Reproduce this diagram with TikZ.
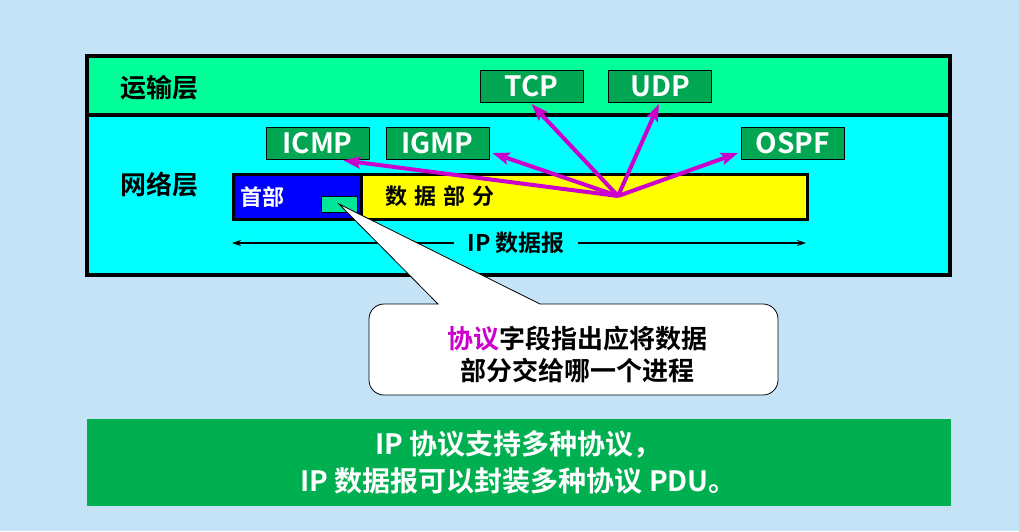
\documentclass[tikz,border=0pt]{standalone}
\usepackage{fontspec}
\setmainfont{Noto Sans CJK SC}[BoldFont={Noto Sans CJK SC Bold}]
\usetikzlibrary{arrows.meta,calc}

\definecolor{bgblue}{RGB}{197,227,247}
\definecolor{transgreen}{RGB}{0,255,153}
\definecolor{netcyan}{RGB}{0,255,255}
\definecolor{protogreen}{RGB}{0,166,81}
\definecolor{fieldgreen}{RGB}{0,230,150}
\definecolor{hdrblue}{RGB}{0,0,255}
\definecolor{datayellow}{RGB}{255,255,0}
\definecolor{arrowmag}{RGB}{204,0,204}
\definecolor{notegreen}{RGB}{0,176,80}

\tikzset{
  layerlabel/.style={font=\fontsize{26}{30}\selectfont\bfseries, text=black},
  protobox/.style={draw=black, line width=0.8pt, fill=protogreen,
    minimum width=103pt, minimum height=32pt, inner sep=0pt,
    text=white, font=\fontsize{28}{30}\selectfont\bfseries},
  dispatch/.style={draw=arrowmag, line width=4pt,
    -{Stealth[length=17pt,width=12pt,inset=3pt]}},
  span/.style={draw=black, line width=1.3pt, -{Stealth[length=9pt,width=6pt]}},
}

\begin{document}
\begin{tikzpicture}[x=1pt,y=-1pt]
  % page
  \fill[bgblue] (0,0) rectangle (1019,531);
  \useasboundingbox (0,0) rectangle (1019,531);

  % the two layers
  \fill[transgreen] (86.5,55.5) rectangle (949.5,114.5);
  \fill[netcyan] (86.5,114.5) rectangle (949.5,275);
  \draw[line width=4pt] (86.5,114.5) -- (949.5,114.5);
  \draw[line width=4pt] (86.5,55.5) rectangle (949.5,275);

  \node[layerlabel] (translabel) at (159,88) {运输层};
  \node[layerlabel] (netlabel) at (159,185) {网络层};

  % IP datagram: header + data
  \node[draw=black, line width=2.5pt, fill=hdrblue, minimum width=128pt,
        minimum height=45pt, inner sep=0pt, anchor=north west] (header) at (232,173) {};
  \node[draw=black, line width=2.5pt, fill=datayellow, minimum width=446pt,
        minimum height=45pt, inner sep=0pt, anchor=north west] (data) at (360,173) {};
  \node[text=white, font=\fontsize{22}{26}\selectfont\bfseries, anchor=west]
        (hdrtext) at (237,197) {首部};
  \node[font=\fontsize{22}{26}\selectfont\bfseries, anchor=west]
        (datatext) at (382,196) {数\hspace{7pt}据\hspace{7pt}部\hspace{7pt}分};
  \node[draw=black, line width=0.8pt, fill=fieldgreen, minimum width=36pt,
        minimum height=16pt, inner sep=0pt] (protofield) at (339,204) {};

  % datagram extent
  \node[font=\fontsize{23}{26}\selectfont\bfseries, inner xsep=13pt]
        (iplabel) at (516,243) {IP 数据报};
  \coordinate (ipleft) at (232,243);
  \coordinate (ipright) at (806,243);
  \draw[span] (iplabel.west) -- (ipleft);
  \draw[span] (iplabel.east) -- (ipright);

  % protocol boxes
  \node[protobox] (tcp)  at (531.5,86.5) {TCP};
  \node[protobox] (udp)  at (660,86.5)   {UDP};
  \node[protobox] (icmp) at (317.5,143)  {ICMP};
  \node[protobox] (igmp) at (437.5,143)  {IGMP};
  \node[protobox] (ospf) at (793,143)    {OSPF};

  % protocol field dispatches to the upper protocols
  \coordinate (hub) at (618,196);
  \draw[dispatch] (hub) -- ($(tcp.south)+(0,1)$);
  \draw[dispatch] (hub) -- ($(udp.south)+(-1,1)$);
  \draw[dispatch] (hub) -- ($(icmp.south east)+(-26,1)$);
  \draw[dispatch] (hub) -- ($(igmp.east)+(3,10)$);
  \draw[dispatch] (hub) -- ($(ospf.west)+(-3,10)$);

  % callout explaining the protocol field
  \draw[fill=white, line width=0.8pt]
    (600,304) [rounded corners=15pt] -- (778,304) -- (778,395) -- (369,395)
    -- (369,304) [sharp corners] -- (438,304) -- (protofield.center)
    -- (540,304) -- cycle;
  \node[align=center, font=\fontsize{26}{32}\selectfont\bfseries]
    (calloutText) at (577,354)
    {\textcolor{arrowmag}{协议}字段指出应将数据\\部分交给哪一个进程};

  % summary
  \node[fill=notegreen, minimum width=864pt, minimum height=87pt, inner sep=0pt,
        align=center, text=white, font=\fontsize{28}{37}\selectfont\bfseries]
    (summary) at (518.5,462.5)
    {IP 协议支持多种协议，\\IP 数据报可以封装多种协议 PDU。};
\end{tikzpicture}
\end{document}
